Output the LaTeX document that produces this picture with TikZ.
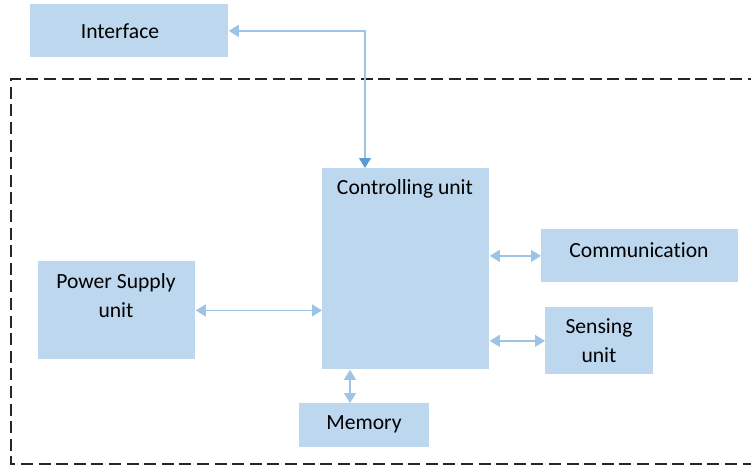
\documentclass[tikz,border=0pt]{standalone}
\usepackage{fontspec}
\setmainfont{Carlito}[Ligatures=NoCommon]
\usetikzlibrary{arrows.meta, positioning, calc}
\definecolor{BoxBlue}{HTML}{BDD7EE}
\definecolor{LinkBlue}{HTML}{9DC3E6}
\definecolor{TipBlue}{HTML}{5B9BD5}
\definecolor{FrameGray}{HTML}{262626}

\tikzset{
    blockbox/.style={fill=BoxBlue, draw=none, inner sep=0pt, anchor=north west},
    blocktext/.style={font=\fontsize{10.8}{14.5}\selectfont, align=center, inner sep=0pt},
    biarrow/.style={draw=LinkBlue, line width=0.6pt,
        {Triangle[length=5pt,width=6pt]}-{Triangle[length=5pt,width=6pt]}}
}

\begin{document}
\begin{tikzpicture}[x=0.5pt, y=-0.5pt]
    \useasboundingbox (0,0) rectangle (751,467);

    % Dashed frame of the device (open to the right)
    \draw[FrameGray, line width=0.9pt, dash pattern=on 6pt off 2.8pt]
        (760,79) -- (11,79) -- (11,464) -- (760,464);

    % Blocks
    \node[blockbox, minimum width=99pt, minimum height=26.5pt] (iface) at (30,4) {};
    \node[blockbox, minimum width=83.5pt, minimum height=100.5pt] (ctrl) at (322,168) {};
    \node[blockbox, minimum width=98.5pt, minimum height=26.5pt] (comm) at (541,229) {};
    \node[blockbox, minimum width=54pt, minimum height=33.5pt] (sens) at (545,307) {};
    \node[blockbox, minimum width=78.5pt, minimum height=49pt] (pwr) at (38,261) {};
    \node[blockbox, minimum width=65pt, minimum height=22pt] (mem) at (299,403) {};

    % Labels
    \node[blocktext] (ifaceT) at (120,31) {Interface};
    \node[blocktext] (ctrlT) at (405,189) {Controlling unit};
    \node[blocktext] (commT) at (639,250) {Communication};
    \node[blocktext] (sensT) at (599,341) {Sensing\\unit};
    \node[blocktext] (pwrT) at (116,296) {Power Supply\\unit};
    \node[blocktext] (memT) at (364,424) {Memory};

    % Links
    \coordinate (ctrlIn) at ($(ctrl.north west)+(43,0)$);
    \draw[draw=LinkBlue, line width=0.6pt,
        {Triangle[length=5pt,width=6pt]}-{Triangle[length=5pt,width=6pt,color=TipBlue]}]
        (iface.east) -| (ctrlIn);
    \draw[biarrow] (pwr.east) -- (pwr.east -| ctrl.west);
    \draw[biarrow] (comm.west -| ctrl.east) -- (comm.west);
    \draw[biarrow] (sens.west -| ctrl.east) -- (sens.west);
    \coordinate (memIn) at ($(mem.north west)+(51,0)$);
    \draw[biarrow] (ctrl.south -| memIn) -- (memIn);

\end{tikzpicture}
\end{document}
